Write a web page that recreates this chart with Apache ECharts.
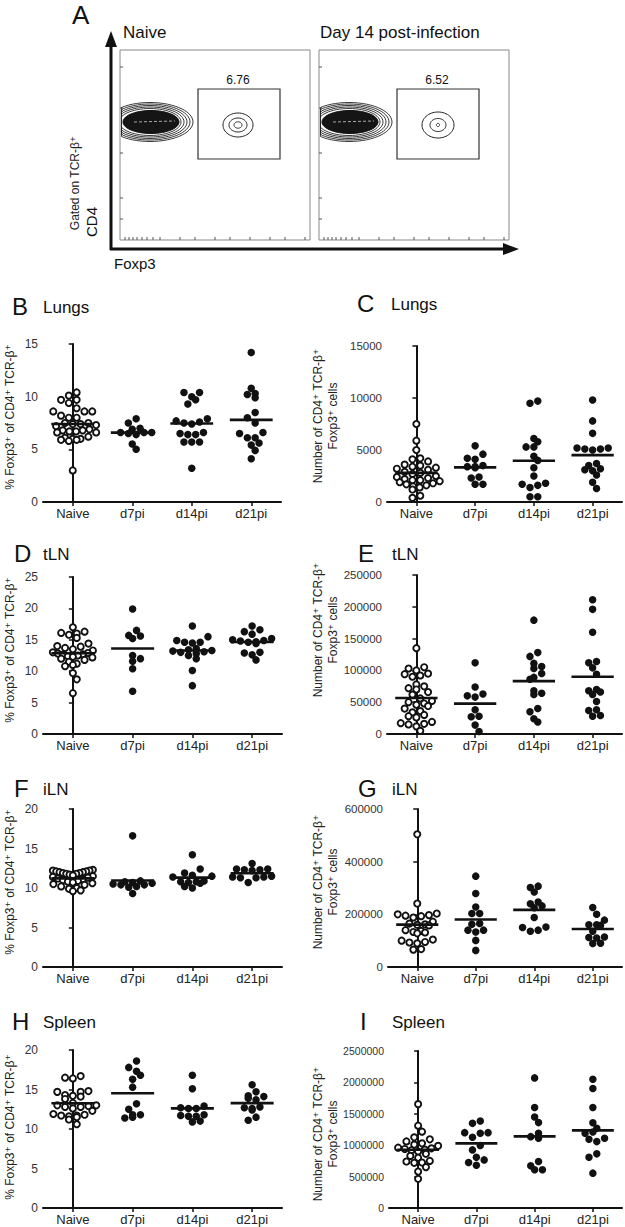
<!DOCTYPE html>
<html><head><meta charset="utf-8">
<script src="https://cdn.jsdelivr.net/npm/echarts@6/dist/echarts.min.js"></script>
<style>html,body{margin:0;padding:0;background:#fff}#c{width:625px;height:1227px}</style>
</head><body><div id="c"></div>
<script>
const categories = ['Naive', 'd7pi', 'd14pi', 'd21pi'];

// B: Lungs, % Foxp3+ of CD4+ TCR-b+
const lungsPct = [
  [10.4, 10.1, 9.7, 9.7, 9.4, 8.9, 8.6, 8.6, 8.6, 8.2, 8.0, 8.0, 7.5, 7.5, 7.4, 7.4, 7.3, 7.2, 6.9, 6.8, 6.8, 6.7, 6.7, 6.6, 6.6, 6.2, 6.1, 6.0, 6.0, 5.9, 5.9, 5.8, 3.0],
  [7.9, 7.5, 7.0, 6.9, 6.6, 6.6, 6.6, 6.5, 6.4, 5.5, 5.0],
  [10.4, 10.4, 10.0, 9.7, 9.3, 7.9, 7.7, 7.6, 7.5, 7.4, 6.6, 6.5, 6.4, 6.4, 5.7, 5.7, 5.7, 3.2],
  [14.2, 10.8, 10.3, 10.2, 9.9, 8.5, 8.0, 7.5, 6.6, 6.5, 6.1, 6.1, 5.6, 5.4, 4.9, 4.1]
];
// C: Lungs, number of cells
const lungsNum = [
  [7500, 5900, 5000, 4200, 4100, 3900, 3600, 3500, 3400, 3300, 3200, 3100, 2900, 2800, 2700, 2500, 2400, 2300, 2200, 2100, 2100, 2000, 1900, 1800, 1700, 1600, 1500, 1400, 1200, 600, 400],
  [5400, 4600, 4200, 4100, 3500, 3400, 3300, 3400, 2400, 2300, 1700, 1700],
  [9700, 9500, 6100, 5800, 5300, 5300, 4400, 4000, 3300, 2500, 1800, 1700, 1600, 1400, 500, 500],
  [9800, 7800, 6600, 5200, 5200, 5100, 5100, 5000, 3700, 3500, 3200, 3100, 3000, 2600, 1900, 1300]
];
// D: tLN %
const tlnPct = [
  [17.0, 16.3, 16.1, 16.0, 15.8, 15.3, 14.4, 14.0, 13.9, 13.7, 13.5, 13.3, 13.0, 12.9, 12.8, 12.7, 12.6, 12.5, 12.4, 12.3, 12.2, 12.0, 11.8, 11.5, 11.2, 11.0, 10.8, 9.7, 8.7, 6.5],
  [19.9, 16.5, 15.7, 15.6, 15.2, 12.5, 12.0, 11.6, 10.4, 6.8],
  [17.2, 15.5, 14.9, 14.6, 14.6, 14.5, 13.6, 13.4, 13.3, 13.2, 13.1, 13.0, 12.8, 12.5, 12.0, 10.1, 7.7],
  [17.2, 16.6, 16.3, 15.9, 15.2, 15.0, 14.9, 14.8, 14.7, 14.6, 14.4, 13.0, 12.9, 12.6, 11.8]
];
// E: tLN number
const tlnNum = [
  [135000, 105000, 103000, 100000, 95000, 94000, 92000, 90000, 78000, 75000, 72000, 70000, 66000, 62000, 56000, 52000, 50000, 48000, 46000, 44000, 40000, 36000, 34000, 30000, 28000, 26000, 19000, 17000, 16000, 15000, 12000, 5000],
  [112000, 74000, 63000, 58000, 60000, 38000, 28000, 27000, 14000, 4000],
  [179000, 128000, 122000, 111000, 106000, 103000, 95000, 89000, 86000, 68000, 64000, 62000, 40000, 35000, 24000, 19000],
  [211000, 196000, 160000, 114000, 112000, 104000, 94000, 70000, 68000, 66000, 62000, 51000, 38000, 37000, 29000, 28000]
];
// F: iLN %
const ilnPct = [
  [12.3, 12.2, 12.2, 12.1, 12.1, 12.0, 12.0, 11.9, 11.9, 11.8, 11.8, 11.7, 11.6, 11.5, 11.4, 11.3, 11.2, 11.1, 11.0, 10.9, 10.8, 10.7, 10.6, 10.5, 10.4, 10.2, 10.0, 9.9, 9.7, 9.6],
  [16.6, 10.9, 10.8, 10.7, 10.6, 10.5, 10.4, 10.4, 10.2, 10.1, 9.3],
  [14.2, 12.4, 11.9, 11.6, 11.5, 11.4, 10.9, 10.8, 10.8, 10.7, 10.6, 10.2, 10.0],
  [13.1, 12.4, 12.4, 12.3, 12.3, 12.2, 11.5, 11.4, 11.4, 11.3, 11.3, 10.7]
];
// G: iLN number
const ilnNum = [
  [504000, 241000, 203000, 200000, 197000, 195000, 193000, 188000, 172000, 165000, 162000, 160000, 158000, 140000, 137000, 133000, 131000, 128000, 104000, 100000, 95000, 93000, 90000, 68000, 66000],
  [345000, 279000, 228000, 203000, 203000, 165000, 162000, 140000, 133000, 140000, 101000, 63000],
  [307000, 302000, 285000, 247000, 240000, 232000, 225000, 188000, 152000, 150000, 140000, 136000],
  [226000, 200000, 178000, 160000, 160000, 158000, 136000, 114000, 112000, 110000, 90000, 89000]
];
// H: Spleen %
const spleenPct = [
  [16.7, 16.5, 16.4, 14.7, 14.8, 14.7, 14.3, 14.2, 14.1, 13.8, 13.3, 13.0, 12.8, 13.0, 12.9, 12.8, 12.6, 12.3, 11.9, 11.8, 11.7, 11.7, 11.6, 11.5, 11.2, 10.6],
  [18.6, 17.8, 17.3, 16.8, 16.3, 15.3, 13.2, 12.5, 11.8, 11.8, 11.5, 11.4],
  [16.8, 15.1, 12.9, 12.6, 12.6, 12.7, 11.8, 11.6, 11.7, 11.6, 10.9, 11.0],
  [15.6, 14.7, 14.2, 14.1, 13.9, 13.7, 12.8, 12.7, 12.6, 12.4, 11.5, 11.1]
];
// I: Spleen number
const spleenNum = [
  [1654000, 1311000, 1216000, 1125000, 1094000, 1060000, 1030000, 1010000, 990000, 960000, 950000, 940000, 930000, 920000, 900000, 862000, 830000, 800000, 750000, 740000, 724000, 720000, 650000, 581000, 465000],
  [1385000, 1348000, 1200000, 1200000, 1190000, 1126000, 994000, 925000, 809000, 766000, 724000, 680000],
  [2072000, 1601000, 1450000, 1360000, 1189000, 1136000, 1110000, 740000, 671000, 608000, 608000],
  [2051000, 1903000, 1601000, 1358000, 1268000, 1210000, 1190000, 1110000, 1094000, 1057000, 862000, 809000, 555000]
];

const flowGateValues = ['6.76', '6.52'];

const FONT = '"Liberation Sans", Arial, Helvetica, "DejaVu Sans", sans-serif';
const INK = '#111';

const panels = [
  {letter:'B', name:'Lungs',  data:lungsPct,  max:15,      interval:5,      grid:[43,344,238,158],  right:false, fs:12,   lx:12,  ly:306,  nx:43,  ty:417},
  {letter:'C', name:'Lungs',  data:lungsNum,  max:15000,   interval:5000,   grid:[387,346,235,156], right:true,  fs:11.5, lx:357, ly:303,  nx:391, ty:416},
  {letter:'D', name:'tLN',    data:tlnPct,    max:25,      interval:5,      grid:[43,577,239,157],  right:false, fs:12,   lx:14,  ly:553,  nx:43,  ty:650},
  {letter:'E', name:'tLN',    data:tlnNum,    max:250000,  interval:50000,  grid:[387,575,235,159], right:true,  fs:11.5, lx:358, ly:553,  nx:392, ty:630},
  {letter:'F', name:'iLN',    data:ilnPct,    max:20,      interval:5,      grid:[43,809,239,158],  right:false, fs:12,   lx:14,  ly:788,  nx:43,  ty:882},
  {letter:'G', name:'iLN',    data:ilnNum,    max:600000,  interval:200000, grid:[388,809,234,158], right:true,  fs:11.5, lx:358, ly:788,  nx:392, ty:882},
  {letter:'H', name:'Spleen', data:spleenPct, max:20,      interval:5,      grid:[43,1050,239,158], right:false, fs:12,   lx:12,  ly:1021, nx:43,  ty:1127},
  {letter:'I', name:'Spleen', data:spleenNum, max:2500000, interval:500000, grid:[389,1051,233,157],right:true,  fs:10.5, lx:360, ly:1021, nx:392, ty:1134}
];

// GraphPad-like scatter layout: values binned into rows of one symbol height,
// each row spread symmetrically (lowest values in the centre), rows nudged by
// half a step when they would collide with points already placed. Pixel offsets.
function rowOffsets(vals, pxPerUnit, rowH, spacing, maxHalf, dia) {
  const rows = new Map();
  vals.forEach((v, i) => {
    const r = Math.floor(v * pxPerUnit / rowH);
    if (!rows.has(r)) rows.set(r, []);
    rows.get(r).push(i);
  });
  const res = new Array(vals.length);
  const placed = [];
  [...rows.keys()].sort((a, b) => b - a).forEach(r => {
    const idx = rows.get(r).slice().sort((a, b) => vals[a] - vals[b]);
    const n = idx.length;
    let sp = spacing;
    if (n > 1 && (n - 1) / 2 * sp > maxHalf) sp = 2 * maxHalf / (n - 1);
    const slots = [];
    for (let j = 0; j < n; j++) slots.push((j - (n - 1) / 2) * sp);
    slots.sort((a, b) => (Math.abs(a) - Math.abs(b)) || (a - b));
    let best = 0, bestPen = Infinity;
    [0, sp / 2, -sp / 2].forEach(shift => {
      let pen = 0;
      idx.forEach((i, j) => {
        const x = slots[j] + shift, y = vals[i] * pxPerUnit;
        placed.forEach(p => { const d = Math.hypot(p.x - x, p.y - y); if (d < dia) pen += dia - d; });
      });
      if (pen < bestPen - 0.5) { bestPen = pen; best = shift; }
    });
    idx.forEach((i, j) => {
      res[i] = slots[j] + best;
      placed.push({x: res[i], y: vals[i] * pxPerUnit});
    });
  });
  return res;
}

const grid = [], xAxis = [], yAxis = [], series = [], graphic = [];
const mean = a => a.reduce((s, v) => s + v, 0) / a.length;

panels.forEach((p, k) => {
  const [gl, gt, gw, gh] = p.grid;
  grid.push({left: gl, top: gt, width: gw, height: gh, containLabel: false});
  xAxis.push({
    gridIndex: k, type: 'category', data: categories, boundaryGap: true,
    axisLine: {show: true, lineStyle: {color: INK, width: 2}},
    axisTick: {show: true, alignWithLabel: true, length: 4, lineStyle: {color: INK, width: 1.5}},
    axisLabel: {fontSize: 13, color: '#222', margin: 5, fontFamily: FONT},
    splitLine: {show: false}
  });
  xAxis.push({gridIndex: k, type: 'value', min: -0.5, max: 3.5, show: false});
  yAxis.push({
    gridIndex: k, type: 'value', min: 0, max: p.max, interval: p.interval,
    axisLine: {show: true, lineStyle: {color: INK, width: 2}},
    axisTick: {show: true, length: 4, lineStyle: {color: INK, width: 1.5}},
    axisLabel: {fontSize: p.fs, color: '#333', margin: 5, fontFamily: FONT, formatter: v => String(v)},
    splitLine: {show: false}
  });
  const pxPerUnit = gh / p.max;
  const band = gw / 4;
  const means = [];
  p.data.forEach((vals, g) => {
    const offs = rowOffsets(vals, pxPerUnit, 7, 7.8, 20, 7.5);
    const open = g === 0;
    series.push({
      type: 'scatter', xAxisIndex: 2 * k + 1, yAxisIndex: k,
      data: vals.map((v, i) => [g + offs[i] / band, v]),
      symbol: 'circle', symbolSize: open ? 6.2 : 7.5,
      itemStyle: open ? {color: '#fff', borderColor: INK, borderWidth: 1.9, opacity: 1}
                      : {color: INK, borderWidth: 0, opacity: 1},
      silent: true, animation: false, z: 3
    });
    means.push([g, mean(vals)]);
  });
  series.push({
    type: 'custom', xAxisIndex: 2 * k + 1, yAxisIndex: k, data: means, z: 5, animation: false, silent: true,
    renderItem: (params, api) => {
      const g = api.value(0), m = api.value(1);
      const a = api.coord([g - 0.36, m]), b = api.coord([g + 0.36, m]);
      return {type: 'line', shape: {x1: a[0], y1: a[1], x2: b[0], y2: b[1]}, style: {stroke: INK, lineWidth: 2.6}};
    }
  });
  graphic.push({type: 'text', x: p.lx, y: p.ly, style: {text: p.letter, fontSize: 24, fontFamily: FONT, fill: INK, align: 'left', verticalAlign: 'middle', textAlign: 'left', textVerticalAlign: 'middle'}});
  graphic.push({type: 'text', x: p.nx, y: p.ly + 1, style: {text: p.name, fontSize: 17, fontFamily: FONT, fill: INK, align: 'left', verticalAlign: 'middle', textAlign: 'left', textVerticalAlign: 'middle'}});
  const tStyle = (t, fs) => ({text: t, fontSize: fs, fontFamily: FONT, fill: '#222', align: 'center', verticalAlign: 'middle', textAlign: 'center', textVerticalAlign: 'middle'});
  if (!p.right) {
    graphic.push({type: 'text', x: 10, y: p.ty, rotation: Math.PI / 2, style: tStyle('% Foxp3⁺ of CD4⁺ TCR-β⁺', 12)});
  } else {
    graphic.push({type: 'text', x: 318, y: p.ty, rotation: Math.PI / 2, style: tStyle('Number of CD4⁺ TCR-β⁺', 12)});
    graphic.push({type: 'text', x: 333, y: p.ty, rotation: Math.PI / 2, style: tStyle('Foxp3⁺ cells', 12)});
  }
});

// ---------- Panel A (flow cytometry schematic) ----------
function ellipsePts(cx, cy, rx, ry, clipX) {
  const pts = [];
  for (let k = 0; k < 60; k++) {
    const t = k / 60 * 2 * Math.PI;
    let x = cx + rx * Math.cos(t);
    if (clipX != null) x = Math.max(x, clipX);
    pts.push([x, cy + ry * Math.sin(t)]);
  }
  return pts;
}
const txt = (x, y, t, fs, extra) => Object.assign({type: 'text', x, y, style: {text: t, fontSize: fs, fontFamily: FONT, fill: INK, align: 'left', verticalAlign: 'middle', textAlign: 'left', textVerticalAlign: 'middle'}}, extra || {});
graphic.push(txt(72, 15, 'A', 26));
graphic.push(txt(123, 32, 'Naive', 17));
graphic.push(txt(320, 32, 'Day 14 post-infection', 17));
graphic.push({type: 'line', shape: {x1: 111, y1: 250, x2: 111, y2: 44}, style: {stroke: INK, lineWidth: 3}});
graphic.push({type: 'polygon', shape: {points: [[111, 31], [105, 47], [117, 47]]}, style: {fill: INK}});
graphic.push({type: 'line', shape: {x1: 110, y1: 249, x2: 505, y2: 249}, style: {stroke: INK, lineWidth: 3}});
graphic.push({type: 'polygon', shape: {points: [[519, 249], [503, 243], [503, 255]]}, style: {fill: INK}});
graphic.push({type: 'text', x: 75, y: 183, rotation: Math.PI / 2, style: {text: 'Gated on TCR-β⁺', fontSize: 12, fontFamily: FONT, fill: '#222', align: 'center', verticalAlign: 'middle', textAlign: 'center', textVerticalAlign: 'middle'}});
graphic.push({type: 'text', x: 91, y: 222, rotation: Math.PI / 2, style: {text: 'CD4', fontSize: 15, fontFamily: FONT, fill: INK, align: 'center', verticalAlign: 'middle', textAlign: 'center', textVerticalAlign: 'middle'}});
graphic.push(txt(114, 263, 'Foxp3', 15));

[[120, 0], [319, 1]].forEach(([bx, idx]) => {
  const dx = bx - 120;
  graphic.push({type: 'rect', shape: {x: bx, y: 50, width: 190, height: 190}, style: {fill: 'none', stroke: '#888', lineWidth: 1}});
  [67, 108, 153, 198, 219].forEach(y => graphic.push({type: 'line', shape: {x1: bx, y1: y, x2: bx + 3, y2: y}, style: {stroke: '#555', lineWidth: 1}}));
  [5, 9, 13, 17, 22, 27, 33, 40, 60, 75, 95, 110, 130, 150, 165, 185].forEach(o => graphic.push({type: 'line', shape: {x1: bx + o, y1: 240, x2: bx + o, y2: 237}, style: {stroke: '#555', lineWidth: 1}}));
  const gx = 198 + dx;
  graphic.push({type: 'rect', shape: {x: gx, y: 89, width: 82, height: 70}, style: {fill: 'none', stroke: '#333', lineWidth: 1.2}});
  graphic.push({type: 'text', x: gx + 40, y: 80, style: {text: flowGateValues[idx], fontSize: 12, fontFamily: FONT, fill: INK, align: 'center', verticalAlign: 'middle', textAlign: 'center', textVerticalAlign: 'middle'}});
  const cx = 150 + dx, clip = bx + 1.5;
  [[43, 19.5], [40, 18], [37, 16.5], [34, 15], [31, 13.5]].forEach(([rx, ry]) =>
    graphic.push({type: 'polygon', shape: {points: ellipsePts(cx, 122, rx, ry, clip)}, style: {fill: 'none', stroke: '#222', lineWidth: 0.9}}));
  graphic.push({type: 'polygon', shape: {points: ellipsePts(cx + 1, 122, 28, 11.5, clip)}, style: {fill: '#151515', stroke: INK, lineWidth: 1}});
  graphic.push({type: 'line', shape: {x1: cx - 16, y1: 122, x2: cx + 25, y2: 121}, style: {stroke: '#aaa', lineWidth: 1, lineDash: [3, 2]}});
  const fx = (idx ? 438 : 238), fy = 125;
  const rings = idx ? [[16, 13], [8, 6.5], [1.6, 1.6]] : [[15, 12], [9, 7], [4, 3.2]];
  rings.forEach(([rx, ry]) => graphic.push({type: 'polygon', shape: {points: ellipsePts(fx, fy, rx, ry)}, style: {fill: 'none', stroke: '#222', lineWidth: 1}}));
});

const chart = echarts.init(document.getElementById('c'), null, {renderer: 'svg', width: 625, height: 1227});
chart.setOption({animation: false, backgroundColor: '#fff', grid, xAxis, yAxis, series, graphic});
</script>
</body></html>
